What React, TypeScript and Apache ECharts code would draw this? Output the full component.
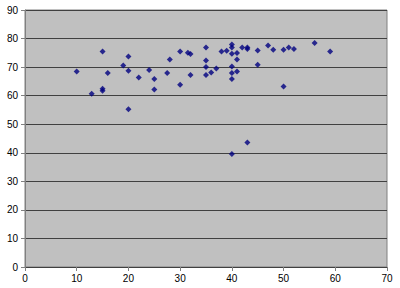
import React, { useEffect, useRef } from "react";
import * as echarts from "echarts";

const xValues = [10, 12.9, 15, 15, 15, 16, 19, 20, 20, 20, 22, 24, 25, 25, 27.5, 28, 30, 30, 31.5, 32, 32, 35, 35, 35, 35, 36, 37, 38, 39, 40, 40, 40, 40, 40, 40, 40, 41, 41, 41, 42, 43, 43, 43, 45, 45, 47, 48, 50, 50, 51, 52, 56, 59];
const yValues = [68.5, 60.7, 75.5, 62.4, 61.7, 67.9, 70.6, 73.7, 68.7, 55.2, 66.4, 69, 65.8, 62.2, 67.9, 72.7, 75.5, 63.8, 75, 74.6, 67.2, 76.9, 72.3, 70, 67.2, 68.1, 69.5, 75.5, 75.7, 77.9, 76.9, 74.7, 70.2, 67.9, 65.8, 39.6, 74.9, 72.7, 68.5, 76.9, 76.9, 76.3, 43.6, 75.8, 70.8, 77.6, 76.1, 76.1, 63.2, 76.9, 76.3, 78.4, 75.5];

export default function App() {
  const ref = useRef<HTMLDivElement>(null);
  useEffect(() => {
    if (!ref.current) return;
    const chart = echarts.init(ref.current, null, { renderer: "svg" });
    const data = xValues.map((x, i) => [x, yValues[i]]);
    const labelStyle = { color: "#000", fontFamily: "Liberation Sans, Arial, sans-serif", fontSize: 10 };
    chart.setOption({
      animation: false,
      backgroundColor: "#fff",
      grid: {
        left: 25, right: 13, top: 10, bottom: 21,
        show: true, backgroundColor: "#C0C0C0", borderColor: "#808080", borderWidth: 1,
      },
      xAxis: {
        type: "value", min: 0, max: 70, interval: 10,
        axisLine: { show: true, onZero: false, lineStyle: { color: "#404040" } },
        axisTick: { show: true, inside: false, length: 4, lineStyle: { color: "#808080" } },
        splitLine: { show: false },
        axisLabel: { ...labelStyle, margin: 6 },
      },
      yAxis: {
        type: "value", min: 0, max: 90, interval: 10,
        axisLine: { show: true, lineStyle: { color: "#808080" } },
        axisTick: { show: true, inside: false, length: 4, lineStyle: { color: "#808080" } },
        splitLine: { show: true, lineStyle: { color: "#404040", width: 1 } },
        axisLabel: { ...labelStyle, margin: 7 },
      },
      series: [
        {
          type: "scatter",
          data,
          symbol: "diamond",
          symbolSize: 6,
          itemStyle: { color: "#000080" },
        },
      ],
    });
    return () => chart.dispose();
  }, []);
  return <div ref={ref} style={{ position: "fixed", left: 0, top: 0, width: 400, height: 288 }} />;
}
